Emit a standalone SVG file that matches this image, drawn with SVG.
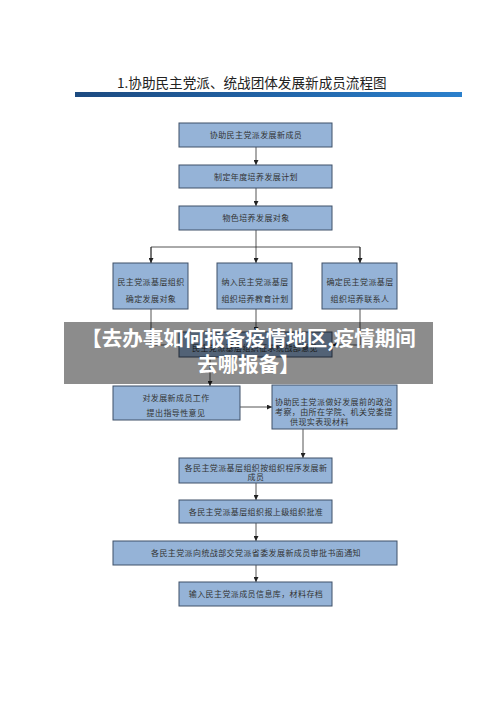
<svg xmlns="http://www.w3.org/2000/svg" width="500" height="707" viewBox="0 0 500 707">
<defs>
<linearGradient id="bar" x1="0" y1="0" x2="1" y2="0">
<stop offset="0" stop-color="#1c4a80"/>
<stop offset="0.5" stop-color="#2163a6"/>
<stop offset="1" stop-color="#2b80cc"/>
</linearGradient>
<marker id="ah" viewBox="0 0 6 6" refX="6" refY="3" markerWidth="5" markerHeight="5" orient="auto" markerUnits="userSpaceOnUse">
<path d="M0,0 L6,3 L0,6 Z" fill="#222"/>
</marker>
<style>
.box{fill:#95b3d7;stroke:#3f5068;stroke-width:1}
.t{font-family:"Liberation Serif","Noto Sans CJK SC",serif;font-size:8px;fill:#333;letter-spacing:0.4px}
.c{text-anchor:middle}
.ln{fill:none;stroke:#2a2a2a;stroke-width:0.8}
.ar{marker-end:url(#ah)}
</style>
</defs>
<rect width="500" height="707" fill="#ffffff"/>
<g id="title">
<text x="117" y="88" font-family="'Noto Sans CJK SC',sans-serif" font-size="13.6" fill="#222">1.协助民主党派、统战团体发展新成员流程图</text>
<rect x="75" y="92" width="387" height="5" fill="url(#bar)"/>
</g>
<g id="connectors">
<line class="ln ar" x1="256" y1="147" x2="256" y2="165"/>
<line class="ln ar" x1="256" y1="188" x2="256" y2="206"/>
<line class="ln" x1="256" y1="230" x2="256" y2="247"/>
<polyline class="ln" points="151,263 151,247 360,247 360,263"/>
<line class="ln ar" x1="151" y1="247" x2="151" y2="263"/>
<line class="ln ar" x1="256" y1="247" x2="256" y2="263"/>
<line class="ln ar" x1="360" y1="247" x2="360" y2="263"/>
<line class="ln ar" x1="256" y1="309" x2="256" y2="332"/>
<polyline class="ln ar" points="151,309 151,345 179,345"/>
<polyline class="ln ar" points="360,309 360,345 332,345"/>
<line class="ln ar" x1="210" y1="357" x2="210" y2="386"/>
<line class="ln ar" x1="240" y1="407" x2="272" y2="407"/>
<line class="ln ar" x1="303" y1="429" x2="303" y2="458"/>
<line class="ln ar" x1="256" y1="483" x2="256" y2="500"/>
<line class="ln ar" x1="256" y1="523" x2="256" y2="541"/>
<line class="ln ar" x1="256" y1="565" x2="256" y2="582"/>
</g>
<g id="n1"><rect class="box" x="179" y="123" width="153" height="24"/><text class="t c" x="256" y="138">协助民主党派发展新成员</text></g>
<g id="n2"><rect class="box" x="179" y="165" width="153" height="23"/><text class="t c" x="256" y="180">制定年度培养发展计划</text></g>
<g id="n3"><rect class="box" x="179" y="206" width="153" height="24"/><text class="t c" x="256" y="221">物色培养发展对象</text></g>
<g id="n4"><rect class="box" x="113" y="263" width="75" height="46"/><text class="t c" x="151" y="285">民主党派基层组织</text><text class="t c" x="151" y="302">确定发展对象</text></g>
<g id="n5"><rect class="box" x="217" y="263" width="75" height="46"/><text class="t c" x="255" y="285">纳入民主党派基层</text><text class="t c" x="255" y="302">组织培养教育计划</text></g>
<g id="n6"><rect class="box" x="322" y="263" width="75" height="46"/><text class="t c" x="360" y="285">确定民主党派基层</text><text class="t c" x="360" y="302">组织培养联系人</text></g>
<g id="n7"><rect class="box" x="179" y="332" width="153" height="25"/><text class="t c" x="255" y="351">民主党派基层组织征求统战部意见</text></g>
<g id="n8"><rect class="box" x="113" y="386" width="127" height="34"/><text class="t c" x="176" y="401">对发展新成员工作</text><text class="t c" x="176" y="416">提出指导性意见</text></g>
<g id="n9"><rect class="box" x="272" y="385" width="125" height="44"/><text class="t" x="275" y="405">协助民主党派做好发展前的政治</text><text class="t" x="275" y="415">考察，由所在学院、机关党委提</text><text class="t" x="290" y="425">供现实表现材料</text></g>
<g id="n10"><rect class="box" x="179" y="458" width="153" height="25"/><text class="t c" x="256" y="471">各民主党派基层组织按组织程序发展新</text><text class="t c" x="256" y="480">成员</text></g>
<g id="n11"><rect class="box" x="179" y="500" width="153" height="23"/><text class="t c" x="256" y="515">各民主党派基层组织报上级组织批准</text></g>
<g id="n12"><rect class="box" x="113" y="541" width="284" height="24"/><text class="t c" x="256" y="556">各民主党派向统战部交党派省委发展新成员审批书面通知</text></g>
<g id="n13"><rect class="box" x="179" y="582" width="153" height="24"/><text class="t c" x="256" y="597">输入民主党派成员信息库，材料存档</text></g>
<g id="banner">
<rect x="64" y="322" width="369" height="62" fill="#000" fill-opacity="0.45"/>
<text x="248.5" y="346" text-anchor="middle" font-family="'Noto Sans CJK SC',sans-serif" font-weight="bold" font-size="20.5" fill="#fff">【去办事如何报备疫情地区,疫情期间</text>
<text x="248.5" y="372" text-anchor="middle" font-family="'Noto Sans CJK SC',sans-serif" font-weight="bold" font-size="20.5" fill="#fff">去哪报备】</text>
</g>
</svg>
